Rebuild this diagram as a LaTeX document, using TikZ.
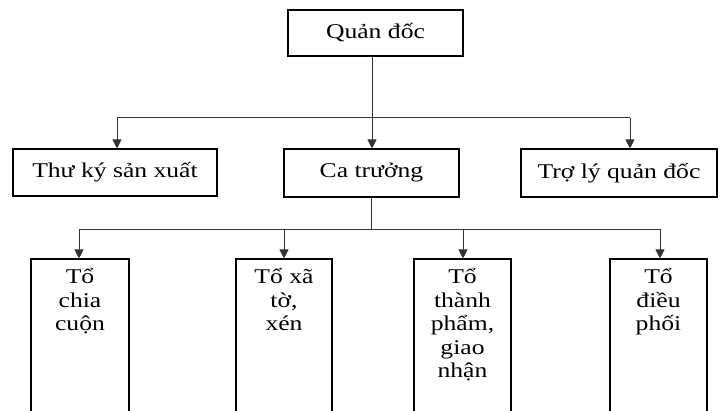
\documentclass[tikz,border=0pt]{standalone}
\usepackage{fontspec}
\setmainfont{Liberation Serif}
\usetikzlibrary{arrows.meta}
\newcommand{\widetxt}[1]{\scalebox{1.22}[1]{#1}}
\begin{document}
\begin{tikzpicture}[x=1pt,y=-1pt,
  box/.style={draw=black,line width=1.1pt,rectangle,inner sep=0pt,font=\fontsize{21}{23.5}\selectfont},
  tallbox/.style={draw=black,line width=1.1pt,rectangle,inner sep=0pt,minimum height=170pt},
  tlabel/.style={align=center,inner sep=0pt,font=\fontsize{21}{23.5}\selectfont},
  conn/.style={draw=black!80,line width=0.9pt},
  arr/.style={conn,-{Triangle[length=9pt,width=9pt]}}]
\useasboundingbox (0,0) rectangle (720,410);
\clip (0,0) rectangle (720,410);
% top level
\node[box,minimum width=175pt,minimum height=46pt] (qd) at (375.5,33) {\widetxt{Quản đốc}};
% second level
\node[box,minimum width=204pt,minimum height=47pt] (tk) at (115,172.5) {\widetxt{Thư ký sản xuất}};
\node[box,minimum width=175pt,minimum height=48pt] (ct) at (371.5,173) {\widetxt{Ca trưởng}};
\node[box,minimum width=196pt,minimum height=48pt] (tl) at (619,173) {\widetxt{Trợ lý quản đốc}};
% junctions first bar
\coordinate (j0) at (372,117.5);
\coordinate (a1) at (117,117.5);
\coordinate (a3) at (630,117.5);
\draw[conn] (qd.south -| j0) -- (j0);
\draw[conn] (a1) -- (a3);
\draw[arr] (a1) -- (a1 |- tk.north);
\draw[arr] (j0) -- (j0 |- ct.north);
\draw[arr] (a3) -- (a3 |- tl.north);
% bottom boxes (top at 259, extend below the page)
\node[tallbox,minimum width=98pt] (b1) at (80,344) {};
\node[tallbox,minimum width=96pt] (b2) at (284,344) {};
\node[tallbox,minimum width=97pt] (b3) at (462.5,344) {};
\node[tallbox,minimum width=97pt] (b4) at (658.5,344) {};
\node[tlabel,anchor=north] (t1) at ([yshift=-10pt]b1.north) {\widetxt{Tổ}\\\widetxt{chia}\\\widetxt{cuộn}};
\node[tlabel,anchor=north] (t2) at ([yshift=-10pt]b2.north) {\widetxt{Tổ xã}\\\widetxt{tờ,}\\\widetxt{xén}};
\node[tlabel,anchor=north] (t3) at ([yshift=-10pt]b3.north) {\widetxt{Tổ}\\\widetxt{thành}\\\widetxt{phẩm,}\\\widetxt{giao}\\\widetxt{nhận}};
\node[tlabel,anchor=north] (t4) at ([yshift=-10pt]b4.north) {\widetxt{Tổ}\\\widetxt{điều}\\\widetxt{phối}};
% second bar
\coordinate (j1) at (371,229);
\coordinate (c1) at (79,229);
\coordinate (c2) at (284,229);
\coordinate (c3) at (463,229);
\coordinate (c4) at (660,229);
\draw[conn] (ct.south -| j1) -- (j1);
\draw[conn] (c1) -- (c4);
\draw[arr] (c1) -- (c1 |- b1.north);
\draw[arr] (c2) -- (c2 |- b2.north);
\draw[arr] (c3) -- (c3 |- b3.north);
\draw[arr] (c4) -- (c4 |- b4.north);
\end{tikzpicture}
\end{document}
